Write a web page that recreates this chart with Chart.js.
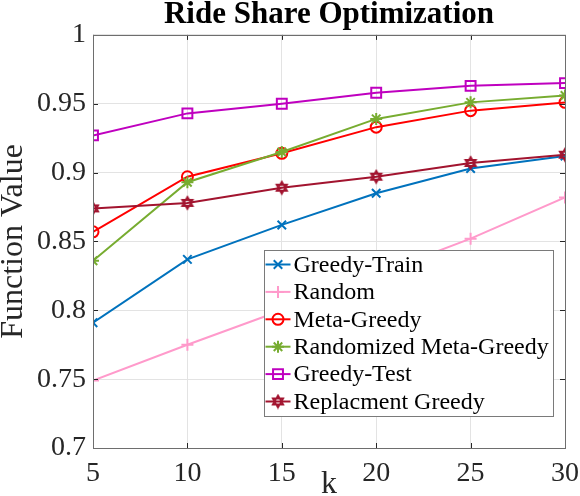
<!DOCTYPE html>
<html>
<head>
<meta charset="utf-8">
<script src="https://cdn.jsdelivr.net/npm/chart.js@4.4.0/dist/chart.umd.min.js"></script>
<style>
html, body { margin: 0; padding: 0; background: #fff; }
#wrap { width: 580px; height: 496px; }
</style>
</head>
<body>
<div id="wrap"><canvas id="chart" width="580" height="496"></canvas></div>
<script>
// data
const kValues = [5, 10, 15, 20, 25, 30];
const xTicks = [5, 10, 15, 20, 25, 30];
const yTicks = [0.7, 0.75, 0.8, 0.85, 0.9, 0.95, 1];

const greedyTrain = [0.791, 0.837, 0.862, 0.885, 0.903, 0.912];
const randomSel = [0.749, 0.775, 0.800, 0.826, 0.852, 0.882];
const metaGreedy = [0.857, 0.897, 0.914, 0.933, 0.945, 0.951];
const randMetaGreedy = [0.836, 0.893, 0.915, 0.939, 0.951, 0.956];
const greedyTest = [0.927, 0.943, 0.950, 0.958, 0.963, 0.965];
const replacement = [0.874, 0.878, 0.889, 0.897, 0.907, 0.913];

const seriesNames = ["Greedy-Train", "Random", "Meta-Greedy",
  "Randomized Meta-Greedy", "Greedy-Test", "Replacment Greedy"];

const serif = "'Liberation Serif', 'Times New Roman', serif";
const axisColor = "#262626";

// six pointed star marker (no built-in style for it)
function makeHexagram(color, r) {
  const c = document.createElement("canvas");
  const s = Math.ceil(r * 2 + 4);
  c.width = s;
  c.height = s;
  const g = c.getContext("2d");
  g.strokeStyle = color;
  g.lineWidth = 1.8;
  g.lineJoin = "miter";
  const cx = s / 2, cy = s / 2;
  [-Math.PI / 2, Math.PI / 2].forEach((off) => {
    g.beginPath();
    for (let i = 0; i < 3; i++) {
      const a = off + i * 2 * Math.PI / 3;
      const px = cx + r * Math.cos(a), py = cy + r * Math.sin(a);
      if (i) g.lineTo(px, py); else g.moveTo(px, py);
    }
    g.closePath();
    g.stroke();
  });
  return c;
}

function series(label, values, color, style, radius) {
  return {
    label: label,
    data: values.map((v, i) => ({ x: kValues[i], y: v })),
    borderColor: color,
    backgroundColor: color,
    pointBorderColor: color,
    pointBackgroundColor: "rgba(0,0,0,0)",
    pointStyle: style,
    pointRadius: radius,
    pointBorderWidth: 2,
    borderWidth: 2,
    tension: 0
  };
}

const datasets = [
  series(seriesNames[0], greedyTrain, "#0072bd", "crossRot", 6),
  series(seriesNames[1], randomSel, "#ff9acb", "cross", 6),
  series(seriesNames[2], metaGreedy, "#ff0000", "circle", 5.5),
  series(seriesNames[3], randMetaGreedy, "#77ac30", "star", 6),
  series(seriesNames[4], greedyTest, "#bf00bf", "rect", 7),
  series(seriesNames[5], replacement, "#a2142f", makeHexagram("#a2142f", 6), 6)
];
// later series on top, like the original
datasets.forEach((d, i) => { d.order = datasets.length - i; });

/* -------------------------
box round the axes + inward ticks
------------------------- */
const axesBox = {
  id: "axesBox",
  afterDatasetsDraw(chart) {
    const { ctx, chartArea: a, scales } = chart;
    ctx.save();
    ctx.strokeStyle = axisColor;
    ctx.lineWidth = 1;
    ctx.beginPath();
    xTicks.forEach((t) => {
      const px = Math.round(scales.x.getPixelForValue(t)) + 0.5;
      ctx.moveTo(px, a.bottom); ctx.lineTo(px, a.bottom - 5);
      ctx.moveTo(px, a.top); ctx.lineTo(px, a.top + 5);
    });
    yTicks.forEach((t) => {
      const py = Math.round(scales.y.getPixelForValue(t)) + 0.5;
      ctx.moveTo(a.left, py); ctx.lineTo(a.left + 5, py);
      ctx.moveTo(a.right, py); ctx.lineTo(a.right - 5, py);
    });
    ctx.stroke();
    ctx.strokeStyle = "#6e6e6e";
    ctx.strokeRect(Math.round(a.left) + 0.5, Math.round(a.top) + 0.5,
      Math.round(a.right - a.left), Math.round(a.bottom - a.top));
    ctx.restore();
  }
};

/* -------------------------
legend inside the plot
------------------------- */
const insideLegend = {
  id: "insideLegend",
  afterDraw(chart) {
    const { ctx, chartArea: a } = chart;
    const x0 = Math.round(a.left + 171) + 0.5;
    const y0 = Math.round(a.top + 215) + 0.5;
    const w = 289, h = 166, rowH = 27.4;
    ctx.save();
    ctx.fillStyle = "#fff";
    ctx.fillRect(x0, y0, w, h);
    ctx.strokeStyle = "#7a7a7a";
    ctx.lineWidth = 1;
    ctx.strokeRect(x0, y0, w, h);
    ctx.font = "24px " + serif;
    ctx.textBaseline = "middle";
    chart.data.datasets.forEach((d, i) => {
      const cy = y0 + 14 + i * rowH;
      ctx.strokeStyle = d.borderColor;
      ctx.fillStyle = d.pointBackgroundColor;
      ctx.lineWidth = 2;
      ctx.beginPath();
      ctx.moveTo(x0 + 1, cy);
      ctx.lineTo(x0 + 26, cy);
      ctx.stroke();
      Chart.helpers.drawPoint(ctx, {
        pointStyle: d.pointStyle, radius: d.pointRadius,
        rotation: 0, borderWidth: 2
      }, x0 + 13.5, cy);
      ctx.fillStyle = "#000";
      ctx.fillText(d.label, x0 + 29, cy + 1);
    });
    ctx.restore();
  }
};

const ctx = document.getElementById("chart").getContext("2d");
const chart = new Chart(ctx, {
  type: "line",
  data: { datasets: datasets },
  plugins: [axesBox, insideLegend],
  options: {
    responsive: false,
    animation: false,
    devicePixelRatio: 1,
    layout: { padding: { left: 0, right: 15, top: 0, bottom: 0 } },
    plugins: {
      legend: { display: false },
      tooltip: { enabled: false },
      title: {
        display: true,
        text: "Ride Share Optimization",
        fullSize: false,
        color: "#000",
        font: { family: serif, size: 31, weight: "bold", lineHeight: 0.9 },
        padding: { top: 1, bottom: 6 }
      }
    },
    scales: {
      x: {
        type: "linear",
        min: 5,
        max: 30,
        afterBuildTicks: (s) => { s.ticks = xTicks.map((v) => ({ value: v })); },
        afterFit: (s) => { s.height = 48; s.paddingLeft = 0; s.paddingRight = 0; },
        ticks: {
          color: axisColor,
          font: { family: serif, size: 28 },
          padding: 9,
          maxRotation: 0,
          callback: (v) => String(v)
        },
        grid: { color: "#e3e3e3", drawTicks: false },
        border: { display: false },
        title: {
          display: true,
          text: "k",
          color: axisColor,
          font: { family: serif, size: 32, lineHeight: 0.74 },
          padding: { top: 0, bottom: 0 }
        }
      },
      y: {
        type: "linear",
        min: 0.7,
        max: 1,
        afterBuildTicks: (s) => { s.ticks = yTicks.map((v) => ({ value: v })); },
        afterFit: (s) => { s.width = 93; },
        ticks: {
          color: axisColor,
          font: { family: serif, size: 28 },
          padding: 7,
          callback: (v) => String(v)
        },
        grid: { color: "#e3e3e3", drawTicks: false },
        border: { display: false },
        title: {
          display: true,
          text: "Function Value",
          color: axisColor,
          font: { family: serif, size: 32, lineHeight: 0.88 },
          padding: { top: 0, bottom: 0 }
        }
      }
    }
  }
});
</script>
</body>
</html>
